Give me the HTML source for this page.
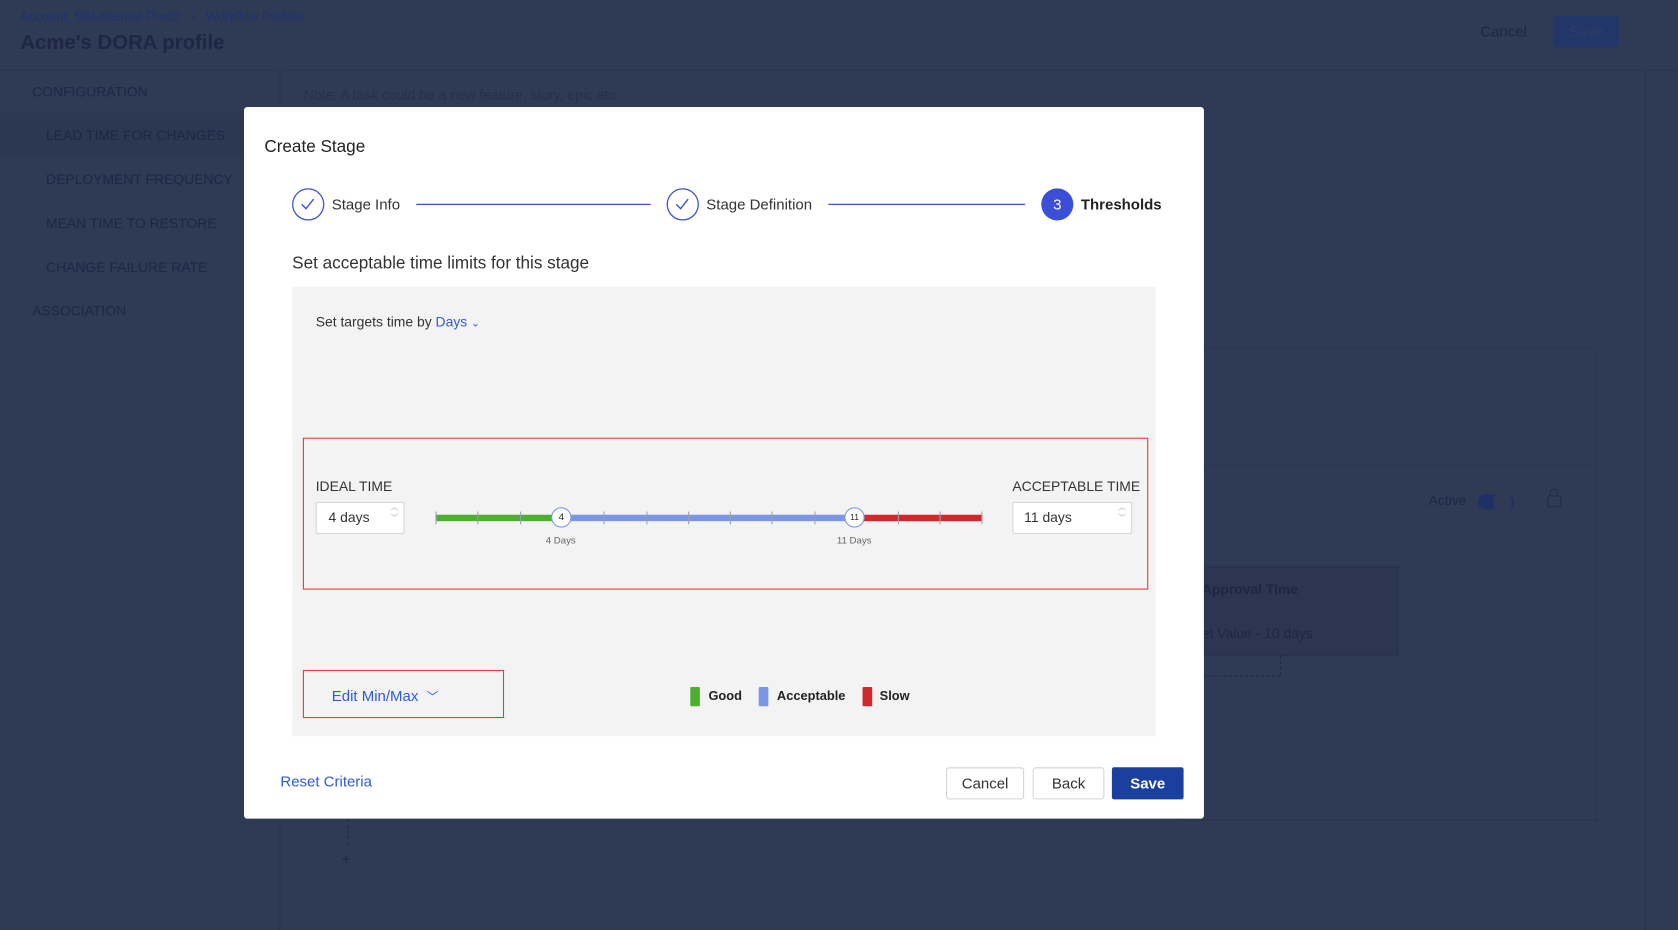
<!DOCTYPE html>
<html><head><meta charset="utf-8"><style>
html,body{margin:0;padding:0;width:1678px;height:930px;overflow:hidden;background:#2f3a55;}
#w{position:absolute;left:0;top:0;width:1568px;height:869px;transform:scale(1.07015);transform-origin:0 0;font-family:"Liberation Sans",sans-serif;background:#2f3a55;}
.a{position:absolute;white-space:nowrap;}
.dim{color:#1d2744;}
.tick{position:absolute;top:-3px;width:1px;height:12px;background:#9aa0b0;}
.btn{position:absolute;border:1px solid #d0d3da;border-radius:3px;background:#fff;font-size:14px;color:#333;text-align:center;line-height:28px;}
</style></head><body><div id="w">
<div class="a" style="left:0;top:65px;width:1568px;height:1px;background:#2a344e"></div>
<div class="a" style="left:261px;top:65px;width:1px;height:804px;background:#2a344e"></div>
<div class="a" style="left:0;top:106px;width:230px;height:42px;background:#2c3752"></div>
<div class="a" style="left:1537px;top:65px;width:1px;height:804px;background:#2a344e"></div>
<div class="a" style="left:19px;top:8px;font-size:12px;color:#1c3270">Account: SEI-Internal-Prod2 &nbsp;&nbsp;›&nbsp;&nbsp; Workflow Profiles</div>
<div class="a dim" style="left:19px;top:30px;font-size:19px;font-weight:bold">Acme's DORA profile</div>
<div class="a dim" style="left:30px;top:78px;font-size:13px">CONFIGURATION</div>
<div class="a dim" style="left:43px;top:119px;font-size:13px">LEAD TIME FOR CHANGES</div>
<div class="a dim" style="left:43px;top:160px;font-size:13px">DEPLOYMENT FREQUENCY</div>
<div class="a dim" style="left:43px;top:201px;font-size:13px">MEAN TIME TO RESTORE</div>
<div class="a dim" style="left:43px;top:242px;font-size:13px">CHANGE FAILURE RATE</div>
<div class="a dim" style="left:30px;top:283px;font-size:13px">ASSOCIATION</div>
<div class="a" style="left:284px;top:81px;font-size:13px;color:#26304b">Note: A task could be a new feature, story, epic etc.</div>
<div class="a" style="left:1370px;top:15px;width:70px;height:29px;font-size:14px;color:#1d2744;text-align:center;line-height:29px">Cancel</div>
<div class="a" style="left:1451px;top:15px;width:62px;height:29px;background:#22366a;border-radius:3px;font-size:14px;color:#2d3d66;text-align:center;line-height:29px">Save</div>
<div class="a" style="left:1100px;top:325px;width:390px;height:440px;border:1px solid #2b3550"></div>
<div class="a" style="left:1100px;top:435px;width:390px;height:330px;border:1px solid #2b3550"></div>
<div class="a dim" style="left:1335px;top:460px;font-size:13px">Active</div>
<div class="a" style="left:1381px;top:462px;width:34px;height:14px;border-radius:7px;background:#1d3167"></div>
<div class="a" style="left:1395px;top:460px;width:18px;height:18px;border-radius:9px;background:#2f3a55"></div>
<div class="a" style="left:1446px;top:463px;width:11px;height:9px;border:1.5px solid #1f2a48;border-radius:2px"></div>
<div class="a" style="left:1448px;top:457px;width:6px;height:6px;border:1.5px solid #1f2a48;border-bottom:none;border-radius:3px 3px 0 0"></div>
<div class="a" style="left:1100px;top:529px;width:205px;height:82px;background:#2c3650;border:1px solid #2a334c"></div>
<div class="a dim" style="left:1123px;top:543px;font-size:13px;font-weight:bold">Approval Time</div>
<div class="a dim" style="left:1123px;top:584px;font-size:13px">et Value - 10 days</div>
<div class="a" style="left:1100px;top:631px;width:96px;height:0;border-top:1px dashed #1f2a48"></div>
<div class="a" style="left:1196px;top:612px;width:0;height:19px;border-left:1px dashed #1f2a48"></div>
<div class="a" style="left:325px;top:765px;width:0;height:25px;border-left:1px dashed #1f2a48"></div>
<div class="a dim" style="left:319px;top:795px;font-size:15px">+</div>

<div class="a" style="left:228px;top:100px;width:897px;height:665px;background:#fff;border-radius:3px"></div>
<div class="a" style="left:247px;top:129px;font-size:16px;color:#222">Create Stage</div>
<svg class="a" style="left:0;top:0" width="1568" height="869">
<circle cx="288" cy="191" r="14.5" fill="none" stroke="#3f51d8" stroke-width="1.2"/>
<path d="M282 191 l4 4 l7 -9" fill="none" stroke="#3f51d8" stroke-width="1.3"/>
<line x1="389" y1="191" x2="608" y2="191" stroke="#3f51d8" stroke-width="1.2"/>
<circle cx="638" cy="191" r="14.5" fill="none" stroke="#3f51d8" stroke-width="1.2"/>
<path d="M632 191 l4 4 l7 -9" fill="none" stroke="#3f51d8" stroke-width="1.3"/>
<line x1="774" y1="191" x2="958" y2="191" stroke="#3f51d8" stroke-width="1.2"/>
<circle cx="988" cy="191" r="15" fill="#3a4ed6"/>
<text x="988" y="196" font-family="Liberation Sans" font-size="14" fill="#fff" text-anchor="middle">3</text>
</svg>
<div class="a" style="left:310px;top:183px;font-size:14px;color:#333">Stage Info</div>
<div class="a" style="left:660px;top:183px;font-size:14px;color:#333">Stage Definition</div>
<div class="a" style="left:1010px;top:183px;font-size:14px;color:#222;font-weight:bold">Thresholds</div>
<div class="a" style="left:273px;top:238px;font-size:16px;color:#333">Set acceptable time limits for this stage</div>
<div class="a" style="left:273px;top:268px;width:807px;height:420px;background:#f3f3f3"></div>
<div class="a" style="left:295px;top:293px;font-size:13px;color:#333">Set targets time by <span style="color:#2e5bd8">Days</span> <span style="color:#2e5bd8;font-size:10px">⌄</span></div>
<div class="a" style="left:283px;top:409px;width:788px;height:140px;border:1.5px solid #e53935"></div>
<div class="a" style="left:295px;top:447px;font-size:13px;color:#333">IDEAL TIME</div>
<div class="a" style="left:295px;top:469px;width:81px;height:28px;background:#fff;border:1px solid #d5d7dc;border-radius:2px;font-size:13px;color:#333;line-height:28px;text-indent:11px">4 days<span style="position:absolute;right:5px;top:0;font-size:7px;color:#aaa;line-height:10px;text-indent:0">︿<br>﹀</span></div>
<div class="a" style="left:946px;top:447px;font-size:13px;color:#333">ACCEPTABLE TIME</div>
<div class="a" style="left:946px;top:469px;width:110px;height:28px;background:#fff;border:1px solid #d5d7dc;border-radius:2px;font-size:13px;color:#333;line-height:28px;text-indent:10px">11 days<span style="position:absolute;right:5px;top:0;font-size:7px;color:#aaa;line-height:10px;text-indent:0">︿<br>﹀</span></div>
<div class="a" style="left:407px;top:481px;width:511px;height:6px">
<div class="a" style="left:0;top:0;width:118px;height:6px;background:#4caf2f"></div>
<div class="a" style="left:118px;top:0;width:274px;height:6px;background:#7b96e6"></div>
<div class="a" style="left:392px;top:0;width:119px;height:6px;background:#d0282b"></div>
<div class="tick" style="left:0"></div><div class="tick" style="left:39px"></div><div class="tick" style="left:79px"></div><div class="tick" style="left:157px"></div><div class="tick" style="left:197px"></div><div class="tick" style="left:236px"></div><div class="tick" style="left:275px"></div><div class="tick" style="left:314px"></div><div class="tick" style="left:354px"></div><div class="tick" style="left:432px"></div><div class="tick" style="left:471px"></div><div class="tick" style="left:510px"></div>
</div>
<div class="a" style="left:515px;top:474px;width:17px;height:17px;border-radius:50%;background:#fff;border:1.5px solid #7b96e6;font-size:9px;text-align:center;line-height:17px;color:#222">4</div>
<div class="a" style="left:789px;top:474px;width:17px;height:17px;border-radius:50%;background:#fff;border:1.5px solid #7b96e6;font-size:8px;text-align:center;line-height:17px;color:#222">11</div>
<div class="a" style="left:510px;top:500px;font-size:9px;color:#666">4 Days</div>
<div class="a" style="left:782px;top:500px;font-size:9px;color:#666">11 Days</div>
<div class="a" style="left:283px;top:626px;width:186px;height:43px;border:1.5px solid #e53935"></div>
<div class="a" style="left:310px;top:642px;font-size:14px;color:#2e5bd8">Edit Min/Max &nbsp;<span style="font-size:11px">﹀</span></div>
<div class="a" style="left:645px;top:642px;width:9px;height:18px;background:#4caf2f;border-radius:1px"></div>
<div class="a" style="left:662px;top:643px;font-size:12px;color:#222;font-weight:bold">Good</div>
<div class="a" style="left:709px;top:642px;width:9px;height:18px;background:#7b96e6;border-radius:1px"></div>
<div class="a" style="left:726px;top:643px;font-size:12px;color:#222;font-weight:bold">Acceptable</div>
<div class="a" style="left:806px;top:642px;width:9px;height:18px;background:#d0282b;border-radius:1px"></div>
<div class="a" style="left:822px;top:643px;font-size:12px;color:#222;font-weight:bold">Slow</div>
<div class="a" style="left:262px;top:722px;font-size:14px;color:#2e5bd8">Reset Criteria</div>
<div class="btn" style="left:884px;top:717px;width:71px;height:28px">Cancel</div>
<div class="btn" style="left:965px;top:717px;width:65px;height:28px">Back</div>
<div class="a" style="left:1039px;top:717px;width:67px;height:30px;background:#1a3f9c;border-radius:2px;color:#fff;font-size:14px;font-weight:bold;text-align:center;line-height:30px">Save</div>
</div></body></html>
